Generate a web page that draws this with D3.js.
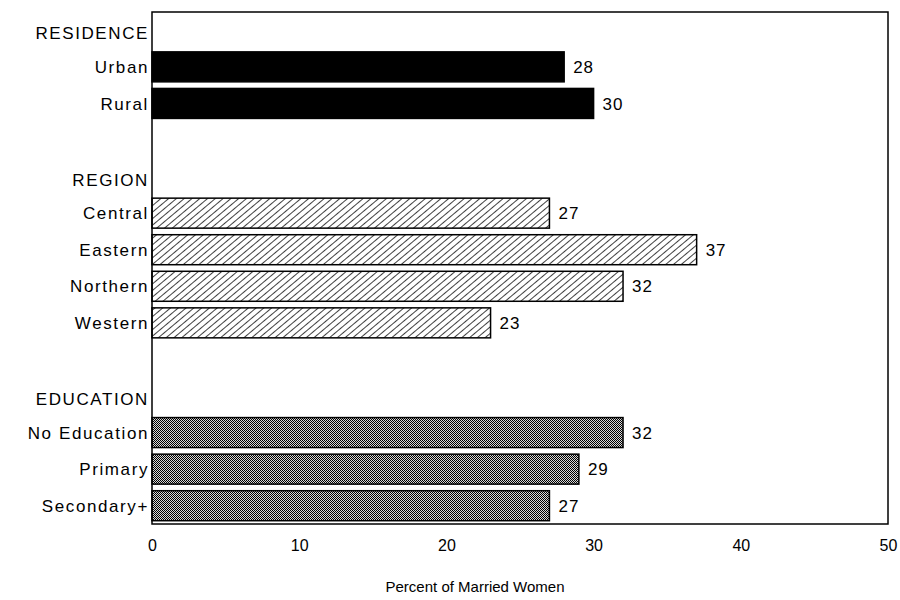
<!DOCTYPE html>
<html>
<head>
<meta charset="utf-8">
<script src="https://cdn.jsdelivr.net/npm/d3@7"></script>
<style>
  body { margin: 0; background: #fff; }
  svg text { font-family: "Liberation Sans", Arial, sans-serif; fill: #000; }
</style>
</head>
<body>
<svg id="chart" width="900" height="600"></svg>
<script>
// rows top to bottom; headers and blanks are spacer rows
const rowLabels = ["RESIDENCE", "Urban", "Rural", "",
                   "REGION", "Central", "Eastern", "Northern", "Western", "",
                   "EDUCATION", "No Education", "Primary", "Secondary+"];
const rowValues = [null, 28, 30, null,
                   null, 27, 37, 32, 23, null,
                   null, 32, 29, 27];
const rowGroup  = [null, "residence", "residence", null,
                   null, "region", "region", "region", "region", null,
                   null, "education", "education", "education"];
const xTicks = [0, 10, 20, 30, 40, 50];
const xTitle = "Percent of Married Women";

const svg = d3.select("#chart");
const box = { left: 152, right: 888, top: 12, bottom: 524 };

const x = d3.scaleLinear().domain([0, 50]).range([box.left, box.right]);
const y = d3.scaleBand()
  .domain(d3.range(rowLabels.length))
  .range([box.top, box.bottom])
  .paddingInner(0.18)
  .paddingOuter(0.09);

// fill patterns
const defs = svg.append("defs");

const hatch = defs.append("pattern")
  .attr("id", "hatch")
  .attr("patternUnits", "userSpaceOnUse")
  .attr("width", 5).attr("height", 5)
  .attr("patternTransform", "rotate(50)");
hatch.append("rect").attr("width", 5).attr("height", 5).attr("fill", "#fff");
hatch.append("line")
  .attr("x1", 0).attr("y1", 0).attr("x2", 0).attr("y2", 5)
  .attr("stroke", "#000").attr("stroke-width", 1.5);

// fine stipple: checkerboard
const dots = defs.append("pattern")
  .attr("id", "dots")
  .attr("patternUnits", "userSpaceOnUse")
  .attr("width", 2).attr("height", 2);
dots.append("rect").attr("width", 2).attr("height", 2).attr("fill", "#d8d8d8");
dots.append("rect").attr("width", 1).attr("height", 1).attr("fill", "#000");
dots.append("rect").attr("x", 1).attr("y", 1).attr("width", 1).attr("height", 1).attr("fill", "#000");

const fillFor = { residence: "#000", region: "url(#hatch)", education: "url(#dots)" };

const rows = d3.range(rowLabels.length);

// bars
svg.append("g")
  .selectAll("rect")
  .data(rows.filter(i => rowValues[i] != null))
  .join("rect")
  .attr("x", x(0))
  .attr("y", i => y(i))
  .attr("width", i => x(rowValues[i]) - x(0))
  .attr("height", y.bandwidth())
  .attr("fill", i => fillFor[rowGroup[i]])
  .attr("stroke", "#000")
  .attr("stroke-width", 1.5);

// value labels
svg.append("g")
  .selectAll("text")
  .data(rows.filter(i => rowValues[i] != null))
  .join("text")
  .attr("x", i => x(rowValues[i]) + 9)
  .attr("y", i => y(i) + y.bandwidth() / 2)
  .attr("dy", "0.36em")
  .attr("font-size", 17)
  .attr("letter-spacing", 1)
  .text(i => rowValues[i]);

// category and header labels
svg.append("g")
  .selectAll("text")
  .data(rows.filter(i => rowLabels[i] !== ""))
  .join("text")
  .attr("x", box.left - 3)
  .attr("y", i => y(i) + y.bandwidth() / 2 + (rowValues[i] == null ? 3 : 0))
  .attr("dy", "0.36em")
  .attr("text-anchor", "end")
  .attr("font-size", 17)
  .attr("letter-spacing", 1.6)
  .text(i => rowLabels[i]);

// frame
svg.append("rect")
  .attr("x", box.left).attr("y", box.top)
  .attr("width", box.right - box.left).attr("height", box.bottom - box.top)
  .attr("fill", "none")
  .attr("stroke", "#000")
  .attr("stroke-width", 1.5);

// x axis
const xAxis = svg.append("g")
  .attr("transform", `translate(0,${box.bottom})`)
  .call(d3.axisBottom(x).tickValues(xTicks).tickSize(0).tickPadding(16));
xAxis.select(".domain").remove();
xAxis.selectAll("text")
  .attr("font-size", 16)
  .attr("font-family", "Liberation Sans, Arial, sans-serif");

svg.append("text")
  .attr("x", 475)
  .attr("y", 592)
  .attr("text-anchor", "middle")
  .attr("font-size", 15)
  .text(xTitle);
</script>
</body>
</html>
